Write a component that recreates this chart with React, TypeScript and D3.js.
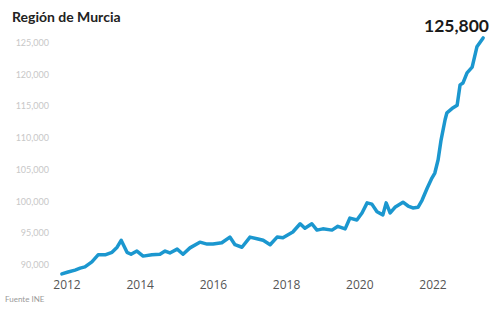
import React, { useRef, useEffect } from 'react';
import * as d3 from 'd3';

// Monthly-ish readings (fractional year, value).
const years = [
  2011.86, 2012.03, 2012.22, 2012.36, 2012.49, 2012.68, 2012.85, 2013.04, 2013.23, 2013.37,
  2013.48, 2013.64, 2013.75, 2013.91, 2014.08, 2014.32, 2014.54, 2014.68, 2014.81, 2015.01,
  2015.17, 2015.36, 2015.63, 2015.83, 2015.99, 2016.23, 2016.45, 2016.59, 2016.78, 2017.0,
  2017.22, 2017.36, 2017.55, 2017.74, 2017.9, 2018.17, 2018.37, 2018.5, 2018.69, 2018.83,
  2018.99, 2019.24, 2019.4, 2019.6, 2019.73, 2019.92, 2020.06, 2020.2, 2020.33, 2020.47,
  2020.63, 2020.72, 2020.83, 2020.96, 2021.18, 2021.32, 2021.45, 2021.59, 2021.7, 2021.84,
  2021.97, 2022.05, 2022.14, 2022.22, 2022.33, 2022.38, 2022.55, 2022.66, 2022.74, 2022.82,
  2022.93, 2023.07, 2023.2, 2023.37,
];
const values = [
  88600, 88900, 89200, 89500, 89700, 90500, 91600, 91600, 92000, 92800,
  93900, 92000, 91700, 92200, 91400, 91600, 91700, 92200, 91900, 92500,
  91700, 92700, 93600, 93300, 93300, 93500, 94400, 93200, 92800, 94400,
  94100, 93900, 93200, 94400, 94300, 95200, 96500, 95800, 96500, 95500,
  95700, 95500, 96100, 95700, 97400, 97100, 98200, 99800, 99600, 98400,
  97900, 99800, 98200, 99100, 99900, 99300, 99000, 99100, 100200, 102100,
  103700, 104500, 106600, 109700, 112900, 114000, 114800, 115200, 118400, 118700,
  120300, 121200, 124400, 125800,
];
const yTicks = [90000, 95000, 100000, 105000, 110000, 115000, 120000, 125000];
const xTicks = [2012, 2014, 2016, 2018, 2020, 2022];

const W = 499;
const H = 309;

export default function App() {
  const ref = useRef<SVGSVGElement>(null);

  useEffect(() => {
    const svg = d3.select(ref.current);
    svg.selectAll('*').remove();

    const x = d3.scaleLinear().domain([2012, 2022]).range([67, 433]);
    const y = d3.scaleLinear().domain([90000, 125000]).range([265, 43]);

    svg.append('text').attr('x', 12).attr('y', 22)
      .attr('font-family', 'Lato, sans-serif').attr('font-weight', 700).attr('font-size', 14)
      .attr('fill', '#222').text('Región de Murcia');

    // y tick labels only, no gridlines
    for (const t of yTicks) {
      svg.append('text').attr('x', 49).attr('y', y(t) + 3)
        .attr('text-anchor', 'end').attr('font-family', 'Lato, sans-serif').attr('font-size', 9)
        .attr('fill', '#c8c8c8').text(d3.format(',')(t));
    }

    for (const t of xTicks) {
      svg.append('text').attr('x', x(t)).attr('y', 289)
        .attr('text-anchor', 'middle').attr('font-family', '"Open Sans", sans-serif').attr('font-size', 12)
        .attr('fill', '#555').text(t);
    }

    const pts = years.map((yr, i) => [yr, values[i]] as [number, number]);
    const line = d3.line<[number, number]>()
      .x((d) => x(d[0]))
      .y((d) => y(d[1]))
      .curve(d3.curveLinear);

    svg.append('path').datum(pts).attr('d', line)
      .attr('fill', 'none').attr('stroke', '#1b97cf').attr('stroke-width', 3.5)
      .attr('stroke-linejoin', 'round').attr('stroke-linecap', 'round');

    // end-value callout
    const last = pts[pts.length - 1];
    svg.append('text').attr('x', 489).attr('y', 32)
      .attr('text-anchor', 'end').attr('font-family', 'Lato, sans-serif').attr('font-weight', 700)
      .attr('font-size', 17.5).attr('fill', '#1a1a1a').text(d3.format(',')(last[1]));

    svg.append('text').attr('x', 5).attr('y', 302)
      .attr('font-family', 'Lato, sans-serif').attr('font-size', 8)
      .attr('fill', '#999').text('Fuente INE');
  }, []);

  return (
    <svg ref={ref} width={W} height={H}
      style={{ position: 'absolute', left: 0, top: 0, background: '#fff' }} />
  );
}
